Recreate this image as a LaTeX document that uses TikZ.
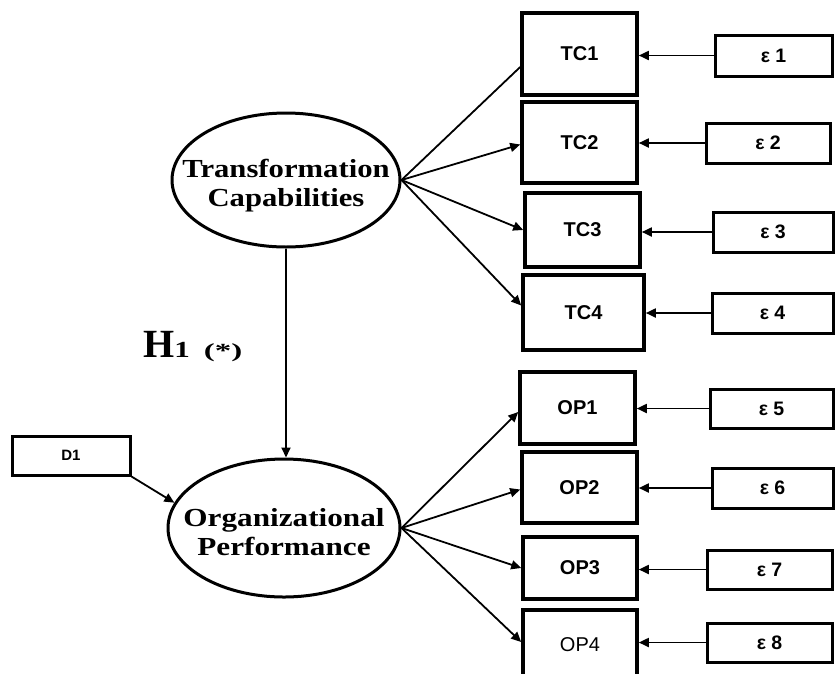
\documentclass[tikz,border=0pt]{standalone}
\usepackage{fontspec}
\setmainfont{Liberation Serif}
\newfontfamily\sansfam{Liberation Sans}
\usetikzlibrary{shapes.geometric,arrows.meta,calc}
\begin{document}
\begin{tikzpicture}[x=1pt,y=-1pt,
  box/.style={draw,line width=3.6pt,rectangle,inner sep=0pt,font=\sansfam\bfseries\fontsize{20}{20}\selectfont},
  ebox/.style={draw,line width=3pt,rectangle,inner sep=0pt,font=\sansfam\bfseries\fontsize{19.5}{19.5}\selectfont},
  latent/.style={draw,line width=3pt,ellipse,inner sep=0pt},
  ltext/.style={align=center,font=\bfseries\fontsize{26}{29}\selectfont},
  conn/.style={line width=1.8pt},
  arr/.style={conn,-{Triangle[length=10pt,width=9pt]}}
]
\useasboundingbox (0,0) rectangle (835,673);
\clip (0,0) rectangle (835,673);
\fill[white] (0,0) rectangle (835,673);

% latent variables
\node[latent,minimum width=228pt,minimum height=134pt] (tce) at (286,180) {};
\node[ltext] (tct) at (286,186) {\scalebox{1.18}[1]{Transformation}\\\scalebox{1.18}[1]{Capabilities}};
\node[latent,minimum width=232pt,minimum height=138pt] (ope) at (284,528) {};
\node[ltext] (opt) at (284,532) {\scalebox{1.2}[1]{Organizational}\\\scalebox{1.2}[1]{Performance}};

% indicator boxes
\node[box,minimum width=115pt,minimum height=82pt] (tc1) at (579.5,54) {TC1};
\node[box,minimum width=115pt,minimum height=81pt] (tc2) at (579.5,142.5) {TC2};
\node[box,minimum width=115pt,minimum height=74pt] (tc3) at (582.5,230) {TC3};
\node[box,minimum width=121pt,minimum height=75pt] (tc4) at (583.5,312.5) {TC4};
\node[box,minimum width=115pt,minimum height=72pt] (op1) at (577.5,408) {OP1};
\node[box,minimum width=115pt,minimum height=71pt] (op2) at (579.5,487.5) {OP2};
\node[box,minimum width=114pt,minimum height=62pt] (op3) at (580,568) {OP3};
\node[box,minimum width=114pt,minimum height=70pt,font=\sansfam\fontsize{20}{20}\selectfont] (op4) at (580,645) {OP4};

% error boxes
\node[ebox,minimum width=117pt,minimum height=41pt] (e1) at (773.5,55.5) {ε 1};
\node[ebox,minimum width=124pt,minimum height=40pt] (e2) at (768,143) {ε 2};
\node[ebox,minimum width=120pt,minimum height=40pt] (e3) at (773,232) {ε 3};
\node[ebox,minimum width=121pt,minimum height=40pt] (e4) at (772.5,313) {ε 4};
\node[ebox,minimum width=123pt,minimum height=39pt] (e5) at (771.5,408.5) {ε 5};
\node[ebox,minimum width=121pt,minimum height=40pt] (e6) at (772.5,488) {ε 6};
\node[ebox,minimum width=125pt,minimum height=39pt] (e7) at (769.5,569.5) {ε 7};
\node[ebox,minimum width=125pt,minimum height=39pt] (e8) at (769.5,642.5) {ε 8};

% D1
\node[ebox,minimum width=118pt,minimum height=39pt,font=\sansfam\bfseries\fontsize{15}{15}\selectfont] (d1) at (71,455.5) {D1};

% H1 label
\node[anchor=base west,inner sep=0pt] (h1) at (143,357) {\bfseries\fontsize{40}{40}\selectfont H\fontsize{23}{23}\selectfont\scalebox{1.35}[1]{1}\hspace{14pt}\fontsize{20}{20}\selectfont\scalebox{1.65}[1]{(*)}};

% loadings
\draw[conn] (tce.east) -- ([yshift=-13pt]tc1.west);
\draw[arr] (tce.east) -- ([yshift=-2pt]tc2.west);
\draw[arr] (tce.east) -- (tc3.west);
\draw[arr] (tce.east) -- ([yshift=7pt]tc4.west);
\draw[arr] (ope.east) -- ([yshift=-4pt]op1.west);
\draw[arr] (ope.east) -- ([yshift=-2pt]op2.west);
\draw[arr] (ope.east) -- (op3.west);
\draw[arr] (ope.east) -- ([yshift=3pt]op4.west);

% errors
\foreach \e/\t in {e1/tc1,e2/tc2,e3/tc3,e4/tc4,e5/op1,e6/op2,e7/op3,e8/op4}
  \draw[arr] (\e.west) -- (\e.west -| \t.east);

% structural path
\draw[arr] (tce.south) -- (tce.south |- ope.north);
\draw[arr] (d1.south east) -- (ope.167);
\end{tikzpicture}
\end{document}
